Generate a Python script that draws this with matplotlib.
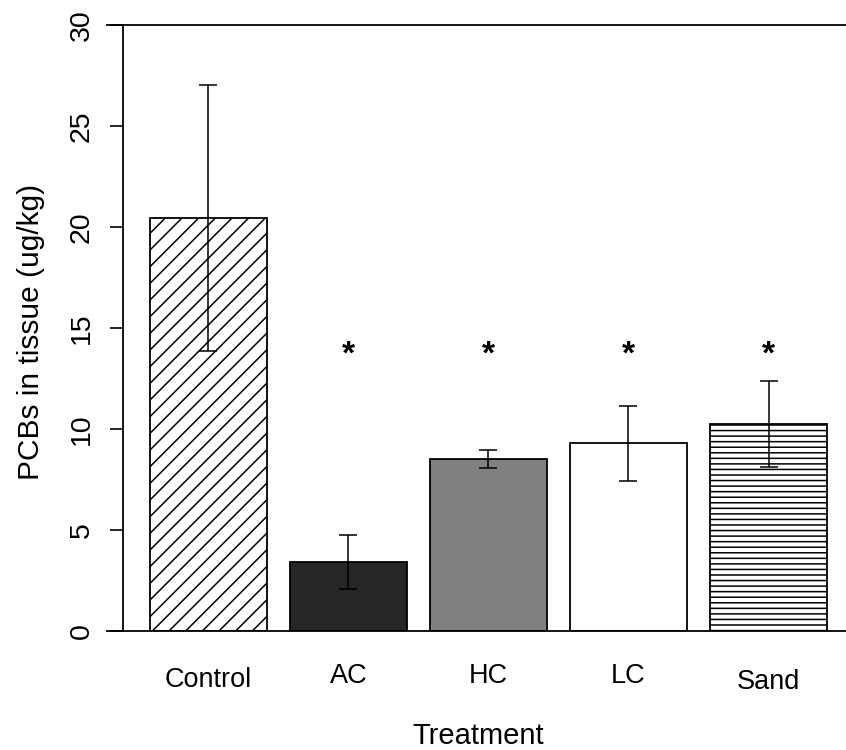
import matplotlib
matplotlib.use("Agg")
import matplotlib.pyplot as plt
import matplotlib.transforms as mtransforms
import numpy as np

plt.rcParams['font.family'] = ['Liberation Sans', 'DejaVu Sans']
plt.rcParams['hatch.linewidth'] = 1.1
plt.rcParams['hatch.color'] = 'black'

# ---- data ----
treatments = ['Control', 'AC', 'HC', 'LC', 'Sand']
means = [20.45, 3.4, 8.5, 9.3, 10.25]
errors = [6.6, 1.33, 0.44, 1.86, 2.12]
significant = [False, True, True, True, True]
star_level = 13.9
y_ticks = [0, 5, 10, 15, 20, 25, 30]

# ---- styles ----
fills = ['white', '#262626', '#808080', 'white', 'white']
hatches = ['//', None, None, None, '---']

W, H = 846, 750
fig = plt.figure(figsize=(W / 100, H / 100), dpi=100)
ax = fig.add_axes([107 / W, 119 / H, 739 / W, 606 / H])

centers = 0.7 + 1.2 * np.arange(len(treatments))
for c, m, f, h in zip(centers, means, fills, hatches):
    ax.bar(c, m, width=1.0, color=f, edgecolor='black', linewidth=1.3,
           hatch=h, zorder=2)

ax.errorbar(centers, means, yerr=errors, fmt='none', ecolor='black',
            elinewidth=1.1, capsize=6.5, capthick=1.1, zorder=3)

star_fs = 24
for c, s in zip(centers, significant):
    if s:
        ax.annotate('*', xy=(c, star_level), xytext=(0, -9.4),
                    textcoords='offset points', ha='center', va='baseline',
                    fontsize=star_fs, fontweight='bold', color='black')

ax.set_xlim(-0.169, 6.164)
ax.set_ylim(0, 30)

ax.spines['right'].set_visible(False)
for side in ['top', 'bottom']:
    ax.spines[side].set_linewidth(1.3)
ax.spines['left'].set_position(('data', -0.032))
ax.spines['left'].set_linewidth(1.3)

ax.set_xticks([])
ax.set_yticks(y_ticks)
ax.set_yticklabels([str(t) for t in y_ticks], rotation=90, va='center',
                   fontsize=20.5)
ax.tick_params(axis='y', length=9.4, width=1.2, pad=11)

# x category labels (baseline positions in figure pixels)
baselines = [687, 683, 683, 683, 689]
trans = mtransforms.blended_transform_factory(ax.transData, fig.transFigure)
for c, lab, b in zip(centers, treatments, baselines):
    ax.text(c, 1 - b / H, lab, transform=trans, ha='center', va='baseline',
            fontsize=19.5)

fig.text(478 / W, 1 - 744 / H, 'Treatment', ha='center', va='baseline',
         fontsize=21)

ax.set_ylabel('PCBs in tissue (ug/kg)', fontsize=21.5)
ax.yaxis.set_label_coords((45 - 107) / 739, (631 - 332) / 606)

fig.savefig('out.png', dpi=100)
